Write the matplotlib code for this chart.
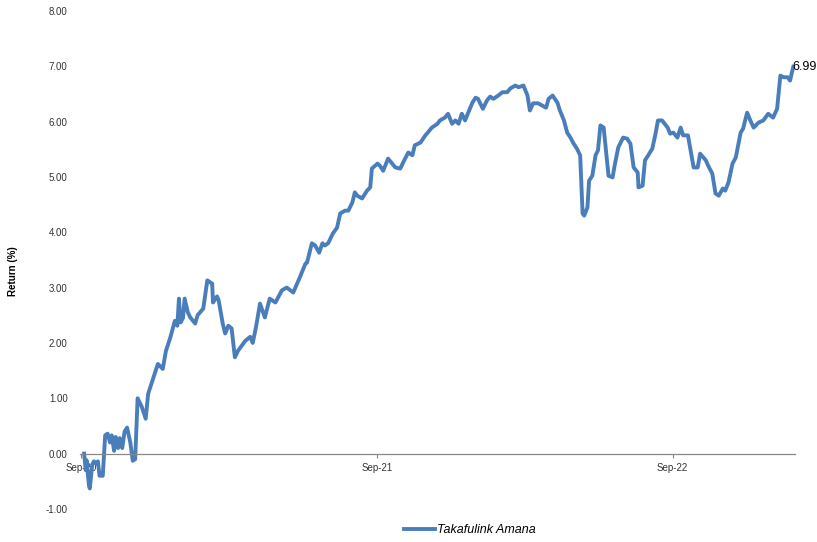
import numpy as np
import pandas as pd
import matplotlib
matplotlib.use('Agg')
from matplotlib import pyplot as plt
import matplotlib.dates as mdates

# データ: 2020-09-01 からの経過日数とリターン (%)
start = pd.Timestamp('2020-09-01')
days = [4, 6, 7, 10, 11, 14, 16, 19, 21, 23, 27, 30, 33, 36, 38, 41, 43, 46, 48, 51,
        54, 57, 61, 64, 67, 70, 75, 80, 83, 89, 95, 101, 105, 110, 116, 119, 121, 123, 126, 128,
        132, 135, 141, 144, 151, 156, 162, 163, 168, 170, 175, 178, 182, 186, 190, 194, 203, 209, 212, 216,
        221, 227, 233, 240, 248, 254, 262, 270, 277, 279, 285, 289, 294, 298, 301, 305, 311, 316, 320, 326,
        330, 335, 338, 341, 347, 353, 357, 359, 366, 369, 373, 379, 384, 388, 394, 400, 404, 409, 412, 419,
        425, 428, 433, 440, 443, 449, 453, 458, 462, 466, 470, 474, 478, 483, 487, 490, 496, 501, 505, 509,
        515, 520, 526, 530, 536, 540, 546, 551, 554, 558, 564, 569, 574, 577, 582, 588, 591, 596, 600, 604,
        608, 612, 616, 619, 621, 625, 627, 631, 635, 638, 641, 645, 647, 651, 656, 659, 663, 669, 674, 678,
        682, 687, 688, 693, 696, 700, 705, 709, 712, 717, 724, 727, 731, 736, 740, 743, 749, 756, 761, 764,
        771, 774, 779, 783, 787, 792, 795, 799, 804, 808, 814, 817, 822, 826, 830, 836, 842, 848, 854, 859,
        863, 867, 872, 875, 877, 879]
returns = [0.00, -0.30, -0.12, -0.58, -0.63, -0.20, -0.14, -0.18, -0.14, -0.40, -0.40, 0.33, 0.36, 0.20, 0.33, 0.05, 0.30, 0.10, 0.28, 0.10,
           0.40, 0.47, 0.20, -0.13, -0.10, 1.00, 0.85, 0.63, 1.08, 1.35, 1.62, 1.53, 1.86, 2.08, 2.40, 2.31, 2.80, 2.37, 2.45, 2.80,
           2.55, 2.46, 2.35, 2.50, 2.62, 3.13, 3.07, 2.73, 2.84, 2.77, 2.35, 2.17, 2.31, 2.26, 1.74, 1.86, 2.04, 2.11, 2.00, 2.28,
           2.71, 2.46, 2.80, 2.73, 2.95, 3.00, 2.91, 3.18, 3.43, 3.45, 3.80, 3.76, 3.63, 3.80, 3.76, 3.80, 3.98, 4.08, 4.34, 4.39,
           4.39, 4.54, 4.72, 4.66, 4.61, 4.75, 4.81, 5.15, 5.24, 5.20, 5.11, 5.33, 5.24, 5.17, 5.15, 5.33, 5.44, 5.39, 5.57, 5.62,
           5.75, 5.80, 5.89, 5.96, 6.02, 6.07, 6.14, 5.96, 6.02, 5.96, 6.14, 6.02, 6.16, 6.34, 6.43, 6.41, 6.23, 6.38, 6.45, 6.41,
           6.47, 6.53, 6.53, 6.60, 6.65, 6.62, 6.65, 6.47, 6.20, 6.33, 6.33, 6.29, 6.25, 6.41, 6.47, 6.34, 6.20, 6.02, 5.80, 5.71,
           5.60, 5.51, 5.39, 4.34, 4.30, 4.45, 4.93, 5.02, 5.39, 5.48, 5.93, 5.89, 5.60, 5.02, 4.99, 5.24, 5.53, 5.71, 5.69, 5.60,
           5.17, 5.08, 4.81, 4.84, 5.30, 5.39, 5.51, 5.78, 6.02, 6.02, 5.89, 5.78, 5.80, 5.71, 5.89, 5.75, 5.75, 5.17, 5.17, 5.42,
           5.30, 5.20, 5.06, 4.70, 4.66, 4.79, 4.75, 4.90, 5.24, 5.35, 5.80, 5.87, 6.16, 6.02, 5.89, 5.98, 6.02, 6.14, 6.07, 6.23,
           6.83, 6.80, 6.80, 6.74, 6.87, 6.99]

dates = start + pd.to_timedelta(days, unit='D')
tick_dates = pd.to_datetime(['2020-09-01', '2021-09-01', '2022-09-01'])
tick_labels = ['Sep-20', 'Sep-21', 'Sep-22']
series_name = 'Takafulink Amana'

plt.rcParams['font.family'] = ['Liberation Sans', 'DejaVu Sans']

fig = plt.figure(figsize=(8.17, 5.42), dpi=100)
ax = fig.add_axes([0.098, 0.061, 0.875, 0.919])

line, = ax.plot(dates, returns, color='#4a7ebb', linewidth=2.8, solid_joinstyle='round')

ax.set_ylim(-1, 8)
ax.set_yticks(np.arange(-1, 9, 1))
ax.set_yticklabels([f'{v:.2f}' for v in np.arange(-1, 9, 1)])
ax.set_xlim(start - pd.Timedelta(days=1), start + pd.Timedelta(days=881))
ax.set_xticks(tick_dates)
ax.set_xticklabels(tick_labels)

for s in ['left', 'right', 'top']:
    ax.spines[s].set_visible(False)
ax.spines['bottom'].set_position(('data', 0))
ax.spines['bottom'].set_color('#888888')
ax.spines['bottom'].set_linewidth(0.9)

ax.tick_params(axis='y', length=0, pad=9, labelsize=7, labelcolor='#333333')
ax.tick_params(axis='x', direction='out', length=3, color='#888888', pad=4, labelsize=7, labelcolor='#333333')

fig.text(0.016, 0.50, 'Return (%)', rotation=90, fontsize=7, fontweight='bold', ha='center', va='center')

ax.annotate(f'{returns[-1]:.2f}', xy=(dates[-1], returns[-1]), xytext=(-1, 0),
            textcoords='offset points', fontsize=9, ha='left', va='center',
            annotation_clip=False)

fig.legend([line], [series_name], loc='center', bbox_to_anchor=(0.575, 0.022), frameon=False,
           prop={'style': 'italic', 'size': 9}, handlelength=2.5, handletextpad=0.2)

fig.savefig('out.png', dpi=100)
